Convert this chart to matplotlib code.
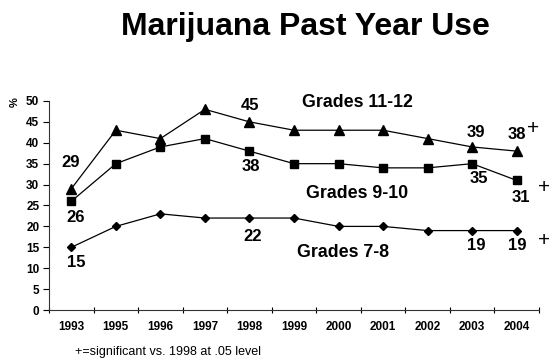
import matplotlib
matplotlib.use("Agg")
import matplotlib.pyplot as plt

plt.rcParams["font.family"] = ["Liberation Sans", "DejaVu Sans"]

years = ["1993", "1995", "1996", "1997", "1998", "1999",
         "2000", "2001", "2002", "2003", "2004"]
grades_11_12 = [29, 43, 41, 48, 45, 43, 43, 43, 41, 39, 38]
grades_9_10 = [26, 35, 39, 41, 38, 35, 35, 34, 34, 35, 31]
grades_7_8 = [15, 20, 23, 22, 22, 22, 20, 20, 19, 19, 19]
yticks = list(range(0, 55, 5))

# which points get a value label, and where (pixel offsets from the marker)
labels_11_12 = {0: (-1, 26), 4: (1, 16), 9: (4, 14), 10: (0, 17)}
labels_9_10 = {0: (4, -16), 4: (1, -15), 9: (7, -15), 10: (4, -17)}
labels_7_8 = {0: (5, -15), 4: (3, -18), 9: (4, -15), 10: (1, -15)}

fig = plt.figure(figsize=(5.49, 3.58), dpi=100)
ax = fig.add_axes([0.0893, 0.134, 0.8925, 0.584])

x = list(range(len(years)))
series = [
    (grades_11_12, "^", 6.5, labels_11_12),
    (grades_9_10, "s", 6, labels_9_10),
    (grades_7_8, "D", 4.5, labels_7_8),
]
for vals, mk, ms, labs in series:
    ax.plot(x, vals, color="black", lw=0.9, marker=mk, markersize=ms,
            markerfacecolor="black", markeredgecolor="black", clip_on=False)
    for i, (dx, dy) in labs.items():
        ax.annotate(str(vals[i]), (x[i], vals[i]), xytext=(dx, dy),
                    textcoords="offset pixels", ha="center", va="center",
                    fontsize=12, fontweight="bold")

# significance markers next to the 2004 points
for vals, dx, dy in [(grades_11_12, 16, 23), (grades_9_10, 27, -7),
                     (grades_7_8, 27, -10)]:
    ax.annotate("+", (x[-1], vals[-1]), xytext=(dx, dy),
                textcoords="offset pixels", ha="center", va="center",
                fontsize=15, fontweight="light", annotation_clip=False)

ax.set_xlim(-0.5, len(years) - 0.5)
ax.set_ylim(0, 50)
ax.set_xticks(x)
ax.set_xticklabels(years, fontsize=8.5, fontweight="bold")
ax.set_xticks([i - 0.5 for i in range(len(years) + 1)], minor=True)
ax.tick_params(axis="x", which="major", length=0, pad=8)
ax.tick_params(axis="x", which="minor", direction="inout", length=5, width=0.8)
ax.set_yticks(yticks)
ax.set_yticklabels([str(t) for t in yticks], fontsize=8.5, fontweight="bold")
ax.tick_params(axis="y", direction="out", length=4, width=0.8, pad=3)
for side in ["top", "right"]:
    ax.spines[side].set_visible(False)
for side in ["left", "bottom"]:
    ax.spines[side].set_linewidth(0.8)
    ax.spines[side].set_color("#333333")

fig.text(0.026, 0.716, "%", rotation=90, fontsize=8, fontweight="bold",
         ha="center", va="center")
fig.text(0.557, 0.902, "Marijuana Past Year Use", fontsize=23,
         fontweight="bold", ha="center", va="baseline")
fig.text(0.651, 0.713, "Grades 11-12", fontsize=12.8, fontweight="bold",
         ha="center", va="center")
fig.text(0.651, 0.46, "Grades 9-10", fontsize=12.8, fontweight="bold",
         ha="center", va="center")
fig.text(0.624, 0.296, "Grades 7-8", fontsize=12.8, fontweight="bold",
         ha="center", va="center")
fig.text(0.1366, 0.0176, "+=significant vs. 1998 at .05 level", fontsize=9,
         ha="left", va="center")

fig.savefig("out.png", dpi=100)
